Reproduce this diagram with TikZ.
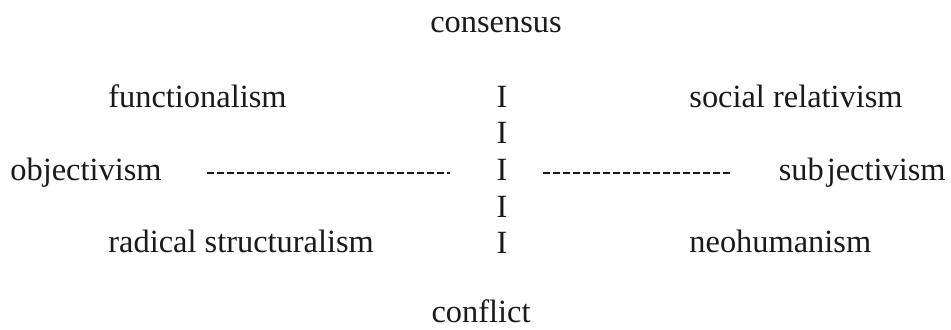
\documentclass[tikz,border=0pt]{standalone}
\usepackage{fontspec}
\setmainfont{Liberation Serif}
\usepackage{tikz}
\usepackage{xcolor}
\definecolor{inkText}{HTML}{1A1A1A}
\tikzset{
  term/.style={inner sep=0pt, text=inkText, font=\fontsize{16.2}{19}\selectfont},
  dashline/.style={inkText, line width=1.1pt, dash pattern=on 3.5pt off 1.5pt}
}

\begin{document}
\begin{tikzpicture}[x=0.5pt, y=-0.5pt]
  \useasboundingbox[fill=white] (0,0) rectangle (951,329);
  \node[term, anchor=base] (cons) at (496,32) {consensus};
  \node[term, anchor=base west] (func) at (108,107) {functionalism};
  \node[term, anchor=base west] (socrel) at (689,107) {social relativism};
  \node[term, anchor=base west] (obj) at (10,180) {objectivism};
  \node[term, anchor=base east] (subj) at (946,180) {sub\kern1.5pt jectivism};
  \node[term, anchor=base west] (radstruct) at (108,252) {radical structuralism};
  \node[term, anchor=base west] (neohum) at (689,252) {neohumanism};
  \node[term, anchor=base] (confl) at (481,322) {conflict};
  \node[term, anchor=base] (I1) at (502,107) {I};
  \node[term, anchor=base] (I2) at (502,143) {I};
  \node[term, anchor=base] (I3) at (502,180) {I};
  \node[term, anchor=base] (I4) at (502,217) {I};
  \node[term, anchor=base] (I5) at (502,253) {I};
  \draw[dashline] ([shift={(45,-7)}]obj.base east) -- ([shift={(-46,-7)}]I3.base west);
  \draw[dashline] ([shift={(35,-7)}]I3.base east) -- ([shift={(-46,-7)}]subj.base west);
\end{tikzpicture}
\end{document}
